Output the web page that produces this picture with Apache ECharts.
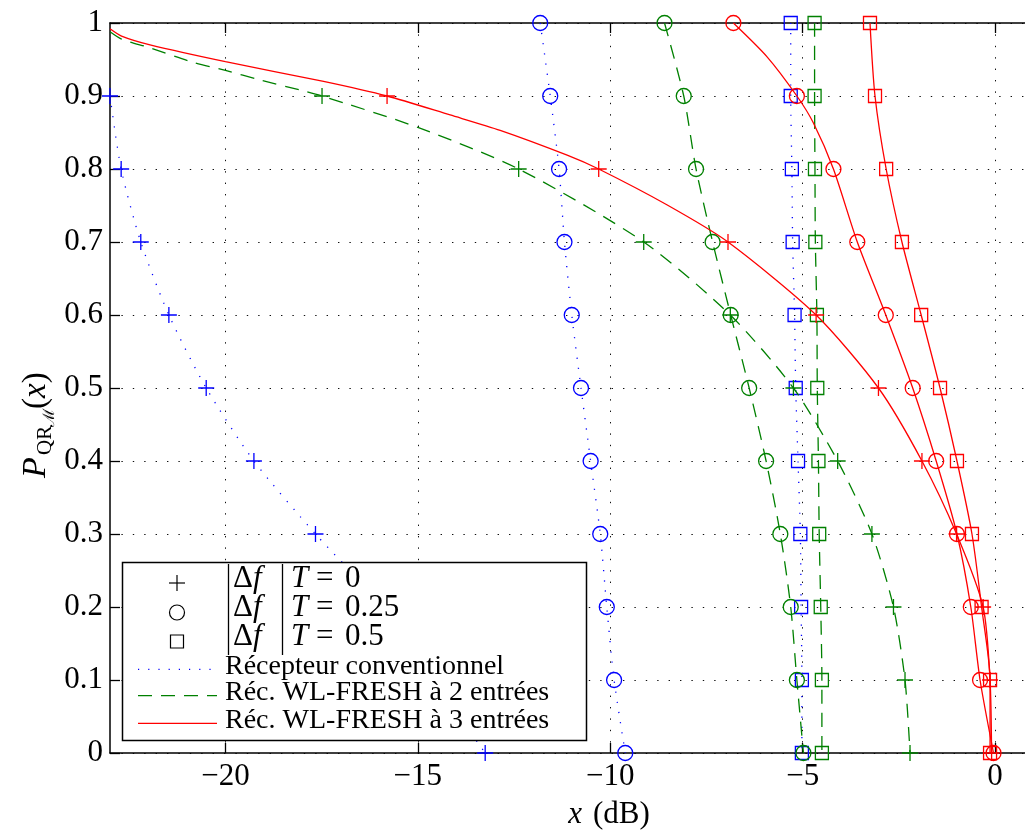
<!DOCTYPE html>
<html><head><meta charset="utf-8">
<script src="https://cdn.jsdelivr.net/npm/echarts@6/dist/echarts.min.js"></script>
<style>html,body{margin:0;padding:0;background:#fff}#c{width:1025px;height:838px}</style>
</head><body><div id="c"></div>
<script>
// y levels at which markers are drawn
const yLevels = [1, 0.9, 0.8, 0.7, 0.6, 0.5, 0.4, 0.3, 0.2, 0.1, 0];
const xTicks = [-20, -15, -10, -5, 0];

// Récepteur conventionnel
const conv_df0   = [null, -23.0, -22.71, -22.2, -21.47, -20.5, -19.26, -17.66, -15.9, -14.6, -13.25];
const conv_df025 = [-11.82, -11.56, -11.33, -11.19, -11.0, -10.76, -10.51, -10.26, -10.09, -9.9, -9.61];
const conv_df05  = [-5.31, -5.31, -5.28, -5.26, -5.21, -5.18, -5.12, -5.06, -5.04, -5.02, -5.02];

// Réc. WL-FRESH à 2 entrées
const wl2_df0   = [null, -17.49, -12.38, -9.13, -6.88, -5.24, -4.09, -3.2, -2.64, -2.34, -2.21];
const wl2_df0_extra = [[-23, 0.988], [-22.7, 0.978], [-21.96, 0.966], [-20.9, 0.947], [-20, 0.935], [-19.1, 0.922], [-18.05, 0.908], [-15, 0.857]];
const wl2_df025 = [-8.59, -8.09, -7.77, -7.34, -6.87, -6.39, -5.95, -5.58, -5.31, -5.15, -4.98];
const wl2_df05  = [-4.69, -4.69, -4.68, -4.67, -4.63, -4.62, -4.59, -4.57, -4.53, -4.5, -4.5];

// Réc. WL-FRESH à 3 entrées
const wl3_df0   = [null, -15.8, -10.3, -6.94, -4.65, -3.03, -1.9, -1.0, -0.31, -0.13, -0.09];
const wl3_df0_extra = [[-23, 0.992], [-22.7, 0.982], [-21.96, 0.970], [-20, 0.947], [-17.45, 0.920], [-14.16, 0.874], [-12.86, 0.853], [-11.12, 0.819], [-8.53, 0.751]];
const wl3_df025 = [-6.8, -5.15, -4.2, -3.58, -2.84, -2.14, -1.53, -0.99, -0.63, -0.39, -0.04];
const wl3_df025_extra = [[-5.93, 0.954], [-4.72, 0.863]];
const wl3_df05  = [-3.25, -3.12, -2.83, -2.42, -1.92, -1.43, -0.99, -0.6, -0.35, -0.13, -0.13];

const legendMarkers = ['0', '0.25', '0.5'];
const legendLines = ['Récepteur conventionnel', 'Réc. WL-FRESH à 2 entrées', 'Réc. WL-FRESH à 3 entrées'];

const SERIF = "'Liberation Serif', 'DejaVu Serif', serif";
const BLUE = '#0000ff', GREEN = '#008000', RED = '#ff0000';
const PLUS = 'path://M0,8L16,8M8,0L8,16';

function build(xs, extras) {
  const pts = [];
  xs.forEach((x, i) => { if (x !== null) pts.push({ v: [x, yLevels[i]], m: true }); });
  (extras || []).forEach(p => pts.push({ v: p, m: false }));
  pts.sort((a, b) => b.v[1] - a.v[1]);
  return pts.map(p => p.m ? { value: p.v } : { value: p.v, symbol: 'none' });
}
function ser(xs, extras, color, dash, symbol, size, z) {
  return {
    type: 'line', data: build(xs, extras), symbol: symbol, symbolSize: size,
    showSymbol: true, clip: false, silent: true, animation: false, z: z,
    smooth: 0.25,
    lineStyle: { color: color, width: 1.3, type: dash },
    itemStyle: { color: 'rgba(0,0,0,0)', borderColor: color, borderWidth: 1.3 }
  };
}
const dotted = [1.2, 9], dashed = [14, 9];

const series = [
  ser(conv_df0, null, BLUE, dotted, PLUS, 16, 2),
  ser(conv_df025, null, BLUE, dotted, 'circle', 15, 2),
  ser(conv_df05, null, BLUE, dotted, 'rect', 13, 2),
  ser(wl2_df0, wl2_df0_extra, GREEN, dashed, PLUS, 16, 3),
  ser(wl2_df025, null, GREEN, dashed, 'circle', 15, 3),
  ser(wl2_df05, null, GREEN, dashed, 'rect', 13, 3),
  ser(wl3_df0, wl3_df0_extra, RED, 'solid', PLUS, 16, 4),
  ser(wl3_df025, wl3_df025_extra, RED, 'solid', 'circle', 15, 4),
  ser(wl3_df05, null, RED, 'solid', 'rect', 13, 4)
];

// legend graphics
const g = [];
g.push({ type: 'rect', shape: { x: 122.5, y: 562.5, width: 464, height: 178 }, style: { fill: '#fff', stroke: '#000', lineWidth: 1.5 }, z: 100 });
const mRows = [583, 612.5, 641.5];
const mx = 177;
g.push({ type: 'line', shape: { x1: mx - 8, y1: mRows[0], x2: mx + 8, y2: mRows[0] }, style: { stroke: '#000', lineWidth: 1.2 }, z: 101 });
g.push({ type: 'line', shape: { x1: mx, y1: mRows[0] - 8, x2: mx, y2: mRows[0] + 8 }, style: { stroke: '#000', lineWidth: 1.2 }, z: 101 });
g.push({ type: 'circle', shape: { cx: mx, cy: mRows[1], r: 7.5 }, style: { fill: 'none', stroke: '#000', lineWidth: 1.2 }, z: 101 });
g.push({ type: 'rect', shape: { x: mx - 6.5, y: mRows[2] - 6.5, width: 13, height: 13 }, style: { fill: 'none', stroke: '#000', lineWidth: 1.2 }, z: 101 });
g.push({ type: 'line', shape: { x1: 228.5, y1: 564, x2: 228.5, y2: 655 }, style: { stroke: '#000', lineWidth: 1.3 }, z: 101 });
g.push({ type: 'line', shape: { x1: 282.5, y1: 564, x2: 282.5, y2: 655 }, style: { stroke: '#000', lineWidth: 1.3 }, z: 101 });
const tRows = [578.5, 607.5, 637];
legendMarkers.forEach((val, i) => {
  const y = tRows[i];
  g.push({ type: 'text', x: 233, y: y, z: 101, style: { text: '{r|Δ}{i|f}', verticalAlign: 'middle', rich: { r: { fontFamily: SERIF, fontSize: 31, fill: '#000' }, i: { fontFamily: SERIF, fontSize: 31, fontStyle: 'italic', fill: '#000' } } } });
  g.push({ type: 'text', x: 291, y: y, z: 101, style: { text: 'T', fontFamily: SERIF, fontSize: 31, fontStyle: 'italic', fill: '#000', verticalAlign: 'middle' } });
  g.push({ type: 'text', x: 316, y: y, z: 101, style: { text: '=', fontFamily: SERIF, fontSize: 31, fill: '#000', verticalAlign: 'middle' } });
  g.push({ type: 'text', x: 345, y: y, z: 101, style: { text: val, fontFamily: SERIF, fontSize: 31, fill: '#000', verticalAlign: 'middle' } });
});
const lRows = [669.3, 695.7, 723.3];
const lStyles = [[BLUE, dotted], [GREEN, dashed], [RED, 'solid']];
legendLines.forEach((txt, i) => {
  g.push({ type: 'line', shape: { x1: 138, y1: lRows[i], x2: 217, y2: lRows[i] }, style: { stroke: lStyles[i][0], lineWidth: 1.3, lineDash: lStyles[i][1] === 'solid' ? null : lStyles[i][1] }, z: 101 });
  g.push({ type: 'text', x: 225, y: lRows[i] - 3, z: 101, style: { text: txt, fontFamily: SERIF, fontSize: 28, fill: '#000', verticalAlign: 'middle' } });
});
// x axis title
g.push({ type: 'text', x: 609, y: 815, z: 101, style: { text: '{i|x}{r|(dB)}', align: 'center', verticalAlign: 'middle', rich: { i: { fontFamily: SERIF, fontSize: 31, fontStyle: 'italic', fill: '#000' }, r: { fontFamily: SERIF, fontSize: 31, fill: '#000', padding: [0, 0, 0, 11] } } } });
// y axis title (rotated)
g.push({ type: 'group', x: 36, y: 478, rotation: Math.PI / 2, z: 101, children: [
  { type: 'text', x: 0, y: 0, style: { text: 'P', fontFamily: SERIF, fontSize: 34, fontStyle: 'italic', fill: '#000', verticalAlign: 'middle' } },
  { type: 'text', x: 23, y: 9, style: { text: 'QR', fontFamily: SERIF, fontSize: 21, fill: '#000', verticalAlign: 'middle' } },
  { type: 'text', x: 51, y: 14, style: { text: 'ℳ', fontFamily: "'DejaVu Serif', serif", fontSize: 16, fill: '#000', verticalAlign: 'middle' } },
  { type: 'text', x: 69, y: 0, style: { text: '{r|(}{i|x}{r|)}', verticalAlign: 'middle', rich: { r: { fontFamily: SERIF, fontSize: 33, fill: '#000' }, i: { fontFamily: SERIF, fontSize: 33, fontStyle: 'italic', fill: '#000' } } } }
] });

const chart = echarts.init(document.getElementById('c'));
const gridLine = { show: true, lineStyle: { color: '#111', width: 1, type: [1.4, 10] } };
chart.setOption({
  animation: false,
  backgroundColor: '#fff',
  grid: { left: 110, top: 23, bottom: 85, right: -85.5, outerBoundsMode: 'none', containLabel: false },
  xAxis: [{
    type: 'value', min: -23, max: 3, position: 'bottom',
    axisLine: { show: true, onZero: false, lineStyle: { color: '#000', width: 1.5 } },
    axisTick: { show: true, inside: true, length: 10, customValues: xTicks, lineStyle: { color: '#000', width: 1.3 } },
    axisLabel: { show: true, customValues: xTicks, margin: 8, fontFamily: SERIF, fontSize: 31, color: '#000',
      formatter: v => v < 0 ? '\u2212' + Math.abs(v) : String(v) },
    splitLine: gridLine
  }, {
    type: 'value', min: -23, max: 3, position: 'top',
    axisLine: { show: true, onZero: false, lineStyle: { color: '#000', width: 1.5 } },
    axisTick: { show: true, inside: true, length: 10, customValues: xTicks, lineStyle: { color: '#000', width: 1.3 } },
    axisLabel: { show: false }, splitLine: { show: false }
  }],
  yAxis: [{
    type: 'value', min: 0, max: 1, interval: 0.1, position: 'left',
    axisLine: { show: true, onZero: false, lineStyle: { color: '#000', width: 1.5 } },
    axisTick: { show: true, inside: true, length: 10, lineStyle: { color: '#000', width: 1.3 } },
    axisLabel: { show: true, margin: 7, fontFamily: SERIF, fontSize: 31, color: '#000',
      formatter: v => (v === 0 ? '0' : v === 1 ? '1' : v.toFixed(1)) },
    splitLine: gridLine
  }],
  series: series,
  graphic: { elements: g }
});
</script></body></html>
